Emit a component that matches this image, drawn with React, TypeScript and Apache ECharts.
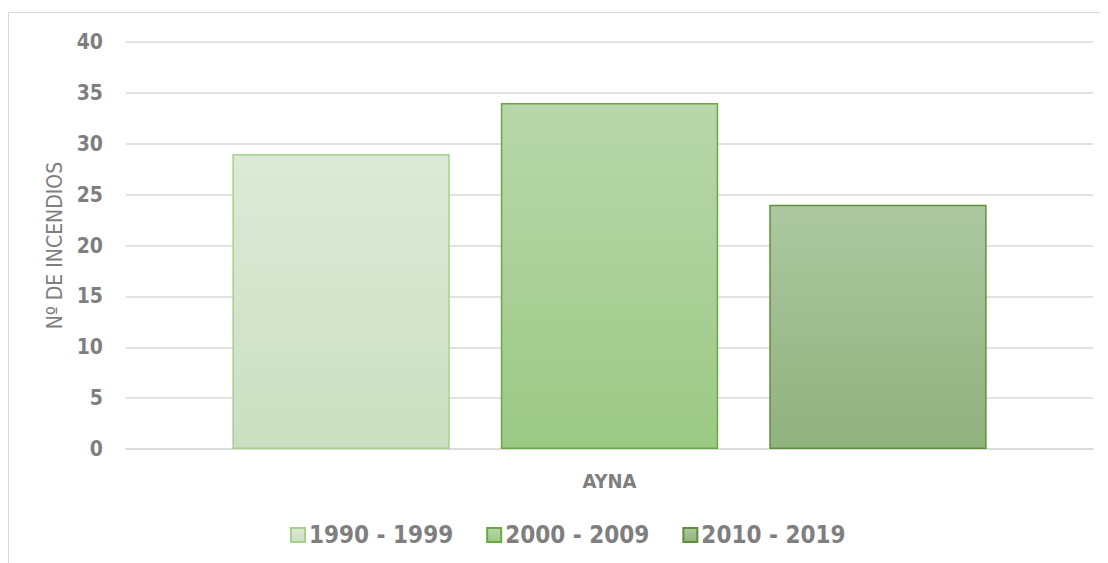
import React, { useEffect, useRef } from "react";
import * as echarts from "echarts";

const categories = ["AYNA"];
const seriesNames = ["1990 - 1999", "2000 - 2009", "2010 - 2019"];
const values1990 = [29];
const values2000 = [34];
const values2010 = [24];
const yTicks = [0, 5, 10, 15, 20, 25, 30, 35, 40];

const fills = [
  ["#dde9d7", "#cadfc1"],
  ["#b8d7aa", "#9cc985"],
  ["#adc8a1", "#90b27d"],
];
const borders = ["#a8d08d", "#6aa843", "#5e8f3c"];

const COND = "'DejaVu Sans Condensed', 'DejaVu Sans', sans-serif";

export default function App() {
  const ref = useRef<HTMLDivElement>(null);
  useEffect(() => {
    if (!ref.current) return;
    const chart = echarts.init(ref.current, undefined, { renderer: "svg" });
    const data = [values1990, values2000, values2010];
    chart.setOption({
      animation: false,
      textStyle: { fontFamily: COND },
      graphic: [
        {
          type: "rect",
          shape: { x: 0.5, y: 4.5, width: 1200, height: 700 },
          style: { fill: "none", stroke: "#d9d9d9", lineWidth: 1 },
          silent: true,
        },
      ],
      grid: { left: 118, right: 15, top: 34, bottom: 114, containLabel: false },
      legend: {
        top: 510,
        left: 277,
        icon: "rect",
        itemWidth: 14,
        itemHeight: 14,
        itemGap: 33,
        textStyle: { color: "#7f7f7f", fontSize: 24, fontWeight: "bold", fontFamily: COND, padding: [0, 0, 0, -1] },
        data: seriesNames,
      },
      xAxis: {
        type: "category",
        data: categories,
        axisLine: { show: true, lineStyle: { color: "#d9d9d9", width: 1.5 } },
        axisTick: { show: false },
        axisLabel: { color: "#7f7f7f", fontSize: 20, fontWeight: "bold", margin: 22, fontFamily: COND },
      },
      yAxis: {
        type: "value",
        min: yTicks[0],
        max: yTicks[yTicks.length - 1],
        interval: 5,
        name: "Nº DE INCENDIOS",
        nameLocation: "middle",
        nameGap: 58,
        nameTextStyle: { color: "#7f7f7f", fontSize: 21, fontFamily: COND },
        axisLine: { show: false },
        axisTick: { show: false },
        axisLabel: { color: "#7f7f7f", fontSize: 21, fontWeight: "bold", margin: 23, fontFamily: COND },
        splitLine: { lineStyle: { color: "#d9d9d9", width: 1.5 } },
      },
      series: seriesNames.map((name, i) => ({
        name,
        type: "bar",
        data: data[i],
        barGap: "23.5%",
        barCategoryGap: "22%",
        itemStyle: {
          color: {
            type: "linear",
            x: 0,
            y: 0,
            x2: 0,
            y2: 1,
            colorStops: [
              { offset: 0, color: fills[i][0] },
              { offset: 1, color: fills[i][1] },
            ],
          },
          borderColor: borders[i],
          borderWidth: 1.5,
        },
      })),
    });
    return () => chart.dispose();
  }, []);
  return <div ref={ref} style={{ width: 1100, height: 555 }} />;
}
